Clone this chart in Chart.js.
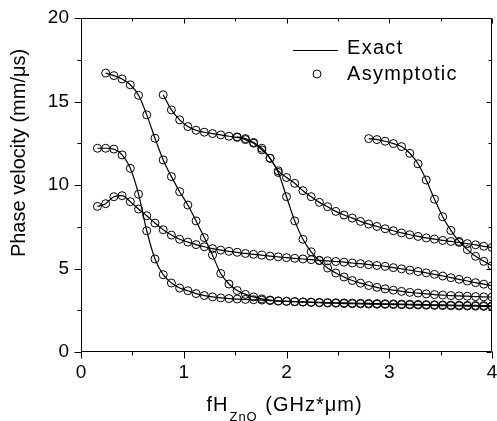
<!DOCTYPE html>
<html>
<head>
<meta charset="utf-8">
<script src="https://cdn.jsdelivr.net/npm/chart.js@4.4.1/dist/chart.umd.min.js"></script>
<style>
  html, body { margin: 0; padding: 0; background: #fff; }
</style>
</head>
<body>
<canvas id="chart" width="497" height="421"></canvas>
<script>
// fH_ZnO grid (GHz*um) on which the asymptotic points sit
const fhGrid = [0.16, 0.24, 0.32, 0.40, 0.48, 0.56, 0.64, 0.72, 0.80, 0.88,
  0.96, 1.04, 1.12, 1.20, 1.28, 1.36, 1.44, 1.52, 1.60, 1.68,
  1.76, 1.84, 1.92, 2.00, 2.08, 2.16, 2.24, 2.32, 2.40, 2.48,
  2.56, 2.64, 2.72, 2.80, 2.88, 2.96, 3.04, 3.12, 3.20, 3.28,
  3.36, 3.44, 3.52, 3.60, 3.68, 3.76, 3.84, 3.92, 4.00];

// phase velocity (mm/us) of each mode, starting at fhGrid[start]
const modeA = [8.72, 8.88, 9.30, 9.36, 9.00, 8.56, 8.16, 7.72, 7.32, 7.00,
  6.75, 6.58, 6.43, 6.30, 6.19, 6.10, 6.03, 5.97, 5.90, 5.85,
  5.80, 5.74, 5.70, 5.65, 5.61, 5.57, 5.53, 5.49, 5.46, 5.42,
  5.38, 5.33, 5.29, 5.23, 5.18, 5.13, 5.05, 4.98, 4.90, 4.82,
  4.74, 4.65, 4.55, 4.45, 4.35, 4.25, 4.15, 4.06, 3.97];
const modeB = [12.20, 12.20, 12.15, 11.80, 11.00, 9.45, 7.26, 5.57, 4.63, 4.13,
  3.83, 3.67, 3.50, 3.38, 3.30, 3.24, 3.20, 3.17, 3.15, 3.13,
  3.11, 3.08, 3.05, 3.03, 3.01, 2.99, 2.97, 2.95, 2.93, 2.92,
  2.90, 2.89, 2.88, 2.87, 2.86, 2.85, 2.84, 2.83, 2.82, 2.81,
  2.80, 2.79, 2.78, 2.77, 2.76, 2.75, 2.74, 2.73, 2.72];
const modeC = [16.70, 16.55, 16.35, 16.00, 15.37, 14.20, 12.80, 11.50, 10.50, 9.60,
  8.80, 7.85, 6.85, 5.80, 4.70, 4.07, 3.68, 3.45, 3.30, 3.18,
  3.11, 3.06, 3.04, 3.02, 3.00, 2.99, 2.97, 2.96, 2.95, 2.94,
  2.93, 2.92, 2.91, 2.90, 2.89, 2.88, 2.87, 2.86, 2.85, 2.84,
  2.83, 2.82, 2.81, 2.80, 2.79, 2.79, 2.78, 2.77];
const modeD = [15.40, 14.50, 13.90, 13.50, 13.28, 13.16, 13.08, 13.00, 12.92, 12.85,
  12.72, 12.50, 12.10, 11.60, 10.75, 9.30, 7.85, 6.75, 6.00, 5.47,
  5.03, 4.73, 4.49, 4.28, 4.12, 3.98, 3.87, 3.78, 3.70, 3.63,
  3.57, 3.53, 3.48, 3.44, 3.41, 3.38, 3.36, 3.34, 3.32, 3.30, 3.29];
const modeE = [12.88, 12.78, 12.55, 12.20, 11.60, 10.85, 10.45, 10.10, 9.66, 9.30,
  8.96, 8.70, 8.42, 8.20, 8.02, 7.82, 7.66, 7.52, 7.38, 7.26,
  7.13, 7.02, 6.92, 6.83, 6.76, 6.68, 6.62, 6.56, 6.49, 6.42,
  6.33, 6.26];
const modeF = [12.78, 12.72, 12.62, 12.48, 12.30, 11.90, 11.27, 10.30, 9.15, 8.10,
  7.28, 6.62, 6.13, 5.73, 5.43, 5.17];

const modes = [modeA, modeB, modeC, modeD, modeE, modeF];
const modeStarts = [0, 0, 1, 8, 17, 33];

const xTickValues = [0, 0.5, 1, 1.5, 2, 2.5, 3, 3.5, 4];
const yTickValues = [0, 2.5, 5, 7.5, 10, 12.5, 15, 17.5, 20];

const FONT = '"Liberation Sans", Arial, Helvetica, sans-serif';

function toPoints(values, start) {
  return values.map((v, i) => ({ x: fhGrid[start + i], y: v }));
}

const datasets = [];
modes.forEach((values, i) => {
  const pts = toPoints(values, modeStarts[i]);
  datasets.push({
    label: 'Exact',
    data: pts,
    showLine: true,
    borderColor: '#000',
    borderWidth: 1.2,
    pointRadius: 0,
    fill: false,
    cubicInterpolationMode: 'monotone'
  });
  datasets.push({
    label: 'Asymptotic',
    data: pts,
    showLine: false,
    pointRadius: 4,
    pointStyle: 'circle',
    pointBorderWidth: 1,
    pointBorderColor: '#000',
    pointBackgroundColor: 'rgba(0,0,0,0)'
  });
});

// frame, in/out ticks, axis titles and the legend box
const decorations = {
  id: 'decorations',
  afterDraw(chart) {
    const { ctx, chartArea: a, scales: { x, y } } = chart;
    const L = Math.round(a.left) + 0.5, R = Math.round(a.right) - 0.5;
    const T = Math.round(a.top) + 0.5, B = Math.round(a.bottom) - 0.5;
    ctx.save();
    ctx.strokeStyle = '#000';
    ctx.lineWidth = 1;
    ctx.beginPath();
    ctx.rect(L, T, R - L, B - T);
    xTickValues.forEach(v => {
      const px = Math.round(x.getPixelForValue(v)) + 0.5;
      const major = Number.isInteger(v);
      ctx.moveTo(px, B); ctx.lineTo(px, B + (major ? 7 : 4));
      ctx.moveTo(px, T); ctx.lineTo(px, T + (major ? 5 : 3));
    });
    yTickValues.forEach(v => {
      const py = Math.round(y.getPixelForValue(v)) + 0.5;
      const major = v % 5 === 0;
      ctx.moveTo(L - (major ? 7 : 4), py); ctx.lineTo(L, py);
      ctx.moveTo(R, py); ctx.lineTo(R - (major ? 5 : 3), py);
    });
    ctx.stroke();

    ctx.fillStyle = '#000';
    ctx.textBaseline = 'alphabetic';

    // x title with subscript
    const big = '20px ' + FONT, small = '13px ' + FONT;
    ctx.letterSpacing = '1px';
    ctx.font = big;
    const w1 = ctx.measureText('fH').width;
    const w3 = ctx.measureText(' (GHz*\u03bcm)').width;
    ctx.font = small;
    const w2 = ctx.measureText('ZnO').width;
    let tx = (a.left + a.right) / 2 - 3 - (w1 + w2 + w3) / 2;
    ctx.textAlign = 'left';
    ctx.font = big;
    ctx.fillText('fH', tx, 411);
    ctx.font = small;
    ctx.fillText('ZnO', tx + w1 + 1, 421);
    ctx.font = big;
    ctx.fillText(' (GHz*\u03bcm)', tx + w1 + w2 + 2, 411);

    // y title
    ctx.letterSpacing = '0px';
    ctx.save();
    ctx.translate(25, 153);
    ctx.rotate(-Math.PI / 2);
    ctx.textAlign = 'center';
    ctx.font = big;
    ctx.fillText('Phase velocity (mm/\u03bcs)', 0, 0);
    ctx.restore();

    // legend
    ctx.beginPath();
    ctx.moveTo(293, 50.5); ctx.lineTo(338, 50.5);
    ctx.stroke();
    ctx.beginPath();
    ctx.arc(317, 74, 4, 0, Math.PI * 2);
    ctx.stroke();
    ctx.letterSpacing = '1.3px';
    ctx.font = '20px ' + FONT;
    ctx.textAlign = 'left';
    ctx.fillText('Exact', 347, 54);
    ctx.fillText('Asymptotic', 347, 80);
    ctx.restore();
  }
};

new Chart(document.getElementById('chart'), {
  type: 'scatter',
  data: { datasets },
  options: {
    responsive: false,
    animation: false,
    devicePixelRatio: 1,
    layout: { padding: { top: 18, right: 2, left: 0, bottom: 0 } },
    plugins: { legend: { display: false }, tooltip: { enabled: false } },
    scales: {
      x: {
        type: 'linear', min: 0, max: 4,
        grid: { display: false, drawTicks: false },
        border: { display: false },
        ticks: { stepSize: 1, color: '#000', padding: 9, font: { family: FONT, size: 19 } },
        afterFit(s) { s.height = 69; s.paddingLeft = 0; s.paddingRight = 0; }
      },
      y: {
        type: 'linear', min: 0, max: 20,
        grid: { display: false, drawTicks: false },
        border: { display: false },
        ticks: { stepSize: 5, color: '#000', padding: 12, font: { family: FONT, size: 19 } },
        afterFit(s) { s.width = 81; s.paddingTop = 0; s.paddingBottom = 0; }
      }
    }
  },
  plugins: [decorations]
});
</script>
</body>
</html>
